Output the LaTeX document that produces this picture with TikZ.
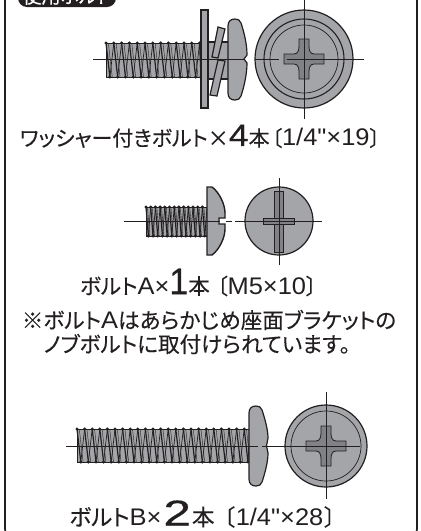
\documentclass[tikz,border=0pt]{standalone}
\usepackage{fontspec}
\setmainfont{Noto Sans CJK JP}[RawFeature={+palt},FakeBold=0.25]
\newfontfamily\numfont{Liberation Sans}[FakeStretch=1.06]
\newfontfamily\digitfont{Liberation Sans}[FakeStretch=1.15,FakeBold=0.5]
\definecolor{ink}{HTML}{231F20}
\definecolor{steel}{HTML}{A3A5A8}
\definecolor{steeld}{HTML}{808285}
\newcommand{\txt}[1]{\fontsize{#1}{#1}\selectfont}
\newcommand{\bignum}[2]{\smash{\txt{#1}\digitfont #2}}
\newcommand{\lat}[1]{{\txt{24}\numfont #1}}
% threads: x0 x1 ytop ybot pitch
\newcommand{\threadbody}[5]{%
  \fill[steel] (#1,#3) rectangle (#2,#4);
  \pgfmathsetmacro{\xnext}{#1+#5}
  \foreach \tx in {#1,\xnext,...,#2}{%
    \pgfmathsetmacro{\txb}{min(\tx+0.5*#5,#2)}
    \pgfmathsetmacro{\txe}{min(\tx+#5,#2)}
    \pgfmathsetmacro{\txm}{min(\tx+0.3*#5,#2)}
    \pgfmathsetmacro{\txn}{min(\tx+0.8*#5,#2)}
    \fill[ink] (\tx,#3) circle (1.7);
    \fill[ink] (\txb,#4) circle (1.7);
    \draw[ink,line width=1.2] (\tx,#3) -- (\txb,#4);
    \draw[ink,line width=0.7] (\txb,#4) -- (\txe,#3);
    \draw[ink,line width=0.4] (\txm,#3) -- (\txn,#4);
  }
  \draw[ink,line width=1] (#1,#3) -- (#2,#3) (#1,#4) -- (#2,#4);
  \draw[ink,line width=0.9] (#1,#3) -- (#1,#4);
}
\tikzset{
  frameline/.style={draw=ink,line width=1.7,rounded corners=12},
  part/.style={draw=ink,fill=steel,line width=1.2},
  recess/.style={draw=ink,fill=steeld,line width=0.8},
  axisline/.style={draw=ink,line width=0.5},
  caption/.style={inner sep=0,anchor=center,text=ink},
}
\begin{document}
\begin{tikzpicture}[x=1pt,y=-1pt]
\useasboundingbox (0,0) rectangle (421,531);
\begin{scope}
\clip (0,0) rectangle (421,531);
\draw[frameline] (5,-30) -- (5,541) -- (417,541) -- (417,-30) -- cycle;
\fill[ink,rounded corners=9] (18,-20) rectangle (116,7);
\node[inner sep=0,text=white,anchor=center] (badge) at (67,-4) {\txt{19}使用ボルト};
\end{scope}

% ---- washer bolt
\threadbody{106}{201}{43}{77}{7.8}
\draw[part] (208,42) rectangle (229,79);
\draw[part] (218,27) -- (225,29) -- (218,58) -- (212,57) -- cycle;
\draw[part] (218,60) -- (225,61) -- (217,96) -- (210,95) -- cycle;
\draw[part] (201,10) rectangle (208,108);
\draw[part] (228,26) .. controls (228,21) and (231,19) .. (235,19) .. controls (238,19) and (240,20) .. (241,23) .. controls (244,32) and (247,44) .. (247,55) -- (244,59) -- (247,63) .. controls (247,74) and (244,87) .. (241,96) .. controls (240,99) and (238,100) .. (235,100) .. controls (231,100) and (228,98) .. (228,93) -- cycle;
\draw[part] (304,59) circle (49);
\draw[ink,line width=1.1] (304,59) circle (40);
\draw[ink,line width=0.7] (304,59) circle (34);
\draw[recess] (284,54) -- (294,54) .. controls (298,54) and (299,50) .. (299,46) -- (299,39) -- (309,39) -- (309,46) .. controls (309,50) and (310,54) .. (314,54) -- (324,54) -- (324,64) -- (314,64) .. controls (310,64) and (309,68) .. (309,72) -- (309,79) -- (299,79) -- (299,72) .. controls (299,68) and (298,64) .. (294,64) -- (284,64) -- cycle;
\draw[axisline] (93,59) -- (245,59) (255,59) -- (279,59) (287,59) -- (364,59);
\draw[axisline] (304,0) -- (304,119);

\node[caption] (capa) at (200,138) {\txt{21}ワッシャー付きボルト×\bignum{31}{4}本\hspace{2pt}〔\lat{1/4"×19}〕};

% ---- bolt A
\threadbody{146}{207}{207}{236}{4.7}
\draw[part,line width=1.4] (207,187) -- (212,187) .. controls (219,192) and (225,204) .. (225,213) -- (225,218) -- (219,218) -- (219,224) -- (225,224) -- (225,229) .. controls (225,238) and (219,250) .. (212,255) -- (207,255) -- cycle;
\draw[part] (279,221) circle (34);
\draw[recess] (274.5,191) rectangle (283.5,252);
\draw[recess] (263,218) rectangle (294,224);
\fill[steeld] (275,218.5) rectangle (283,223.5);
\draw[axisline] (124,221) -- (220,221) (226,221) -- (232,221) (235,221) -- (322,221);
\draw[axisline] (279,178) -- (279,265);

\node[caption] (capb) at (198.5,286) {\txt{21.5}ボルト\lat{A×}\bignum{37}{\scalebox{0.8}[1]{1}}本\hspace{7pt}〔\lat{M5×10}〕};
\node[caption] (noteone) at (209,320) {\txt{21.6}※ボルト\lat{A}はあらかじめ座面ブラケットの};
\node[caption] (notetwo) at (197,344) {\txt{21.6}ノブボルトに取付けられています。};

% ---- bolt B
\threadbody{77}{250}{429}{462}{7.6}
\draw[part] (249,413) .. controls (249,408) and (252,406) .. (256,406) .. controls (259,406) and (261,407) .. (262,410) .. controls (265,419) and (268,430) .. (268,438) -- (266.5,446) -- (268,453) .. controls (268,462) and (265,473) .. (262,482) .. controls (261,485) and (259,486) .. (256,486) .. controls (252,486) and (249,484) .. (249,479) -- cycle;
\draw[part] (326,446) circle (41);
\draw[ink,line width=0.7] (326,446) circle (35);
\draw[recess] (306,441) -- (316,441) .. controls (320,441) and (321,437) .. (321,433) -- (321,426) -- (331,426) -- (331,433) .. controls (331,437) and (332,441) .. (336,441) -- (346,441) -- (346,451) -- (336,451) .. controls (332,451) and (331,455) .. (331,459) -- (331,466) -- (321,466) -- (321,459) .. controls (321,455) and (320,451) .. (316,451) -- (306,451) -- cycle;
\draw[axisline] (66,446) -- (258,446) (262,446) -- (360,446);
\draw[axisline] (326,392) -- (326,499);

\node[caption] (capc) at (202.5,517) {\txt{22.5}ボルト\lat{B×}\hspace{2pt}\bignum{36}{\scalebox{1.2}[1]{2}}\hspace{1pt}本\hspace{9pt}〔\hspace{1pt}\lat{1/4"×28}\hspace{1pt}〕};
\end{tikzpicture}
\end{document}
